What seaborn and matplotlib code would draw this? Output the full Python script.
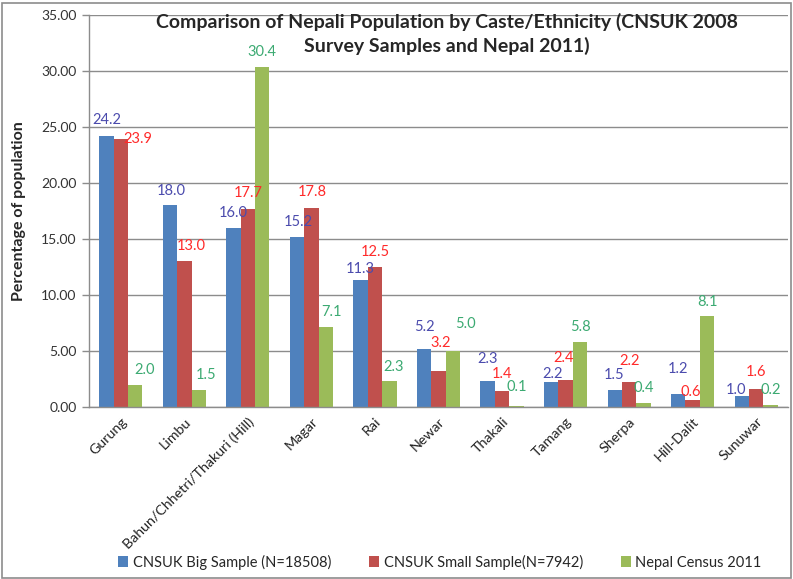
import matplotlib
matplotlib.use("Agg")
import matplotlib.pyplot as plt
import seaborn as sns
import pandas as pd
from matplotlib.patches import Rectangle, Patch

categories = ["Gurung", "Limbu", "Bahun/Chhetri/Thakuri (Hill)", "Magar", "Rai", "Newar",
              "Thakali", "Tamang", "Sherpa", "Hill-Dalit", "Sunuwar"]
series_names = ["CNSUK Big Sample (N=18508)", "CNSUK Small Sample(N=7942)", "Nepal Census 2011"]
big_sample = [24.2, 18.0, 16.0, 15.2, 11.3, 5.2, 2.3, 2.2, 1.5, 1.2, 1.0]
small_sample = [23.9, 13.0, 17.7, 17.8, 12.5, 3.2, 1.4, 2.4, 2.2, 0.6, 1.6]
census_2011 = [2.0, 1.5, 30.4, 7.1, 2.3, 5.0, 0.1, 5.8, 0.4, 8.1, 0.2]
y_ticks = [0, 5, 10, 15, 20, 25, 30, 35]
title_lines = ["Comparison of Nepali Population by Caste/Ethnicity (CNSUK 2008",
               "Survey Samples and Nepal 2011)"]

# styling: data-label nudges in pixels (dx right, dy up from bar top)
label_dx = [[0, 1, 0, 1, 0, 0, 0, 1, -1, 0, -6],
            [17, 7, 0, 1, 0, 2, 0, -2, 0, -2, 0],
            [9, 7, 0, 6, 4, 13, 0, 0, 0, 0, 0]]
label_dy = [[16, 14, 15, 15, 11, 22, 22, 8, 15, 25, 6],
            [0, 15, 16, 16, 15, 28, 17, 22, 21, 8, 17],
            [15, 15, 15, 15, 14, 27, 19, 15, 15, 14, 15]]

bar_colors = ["#4F81BD", "#C0504D", "#9BBB59"]
label_colors = ["#4B4BAD", "#FF2A2A", "#3CAA72"]

rows = []
for name, vals in zip(series_names, [big_sample, small_sample, census_2011]):
    for c, v in zip(categories, vals):
        rows.append({"cat": c, "series": name, "val": v})
df = pd.DataFrame(rows)

sns.set_style("white")
plt.rcParams["font.family"] = ["Lato", "DejaVu Sans"]

fig = plt.figure(figsize=(7.93, 5.79), dpi=100)
ax = fig.add_axes([89/793, 1-407/579, 699/793, 392/579])

sns.barplot(data=df, x="cat", y="val", hue="series", palette=bar_colors,
            width=0.68, saturation=1, ax=ax, legend=False, edgecolor="none")

ax.set_ylim(0, 35)
ax.set_xlim(-0.5, len(categories) - 0.5)
ax.set_yticks(y_ticks)
ax.set_yticklabels([f"{t:.2f}" for t in y_ticks], fontsize=10, color="#333333")
ax.yaxis.grid(True, color="#8C8C8C", linewidth=1)
ax.set_axisbelow(True)
for s in ["top", "right"]:
    ax.spines[s].set_visible(False)
for s in ["left", "bottom"]:
    ax.spines[s].set_color("#8C8C8C")
    ax.spines[s].set_linewidth(1)

ax.set_xticks(range(len(categories)))
ax.set_xticklabels(categories, rotation=45, ha="right", rotation_mode="anchor",
                   fontsize=10.3, color="#222222")
ax.tick_params(axis="x", length=0, pad=6)
ax.set_xticks([i - 0.5 for i in range(len(categories) + 1)], minor=True)
ax.tick_params(axis="x", which="minor", length=5, color="#8C8C8C", width=1)
ax.tick_params(axis="y", length=5, color="#8C8C8C", width=1, left=True, pad=4)
ax.set_xlabel("")
ax.set_ylabel("Percentage of population", fontsize=11.5, fontweight="bold", labelpad=11)

px = 72 / 100.0
for ci, cont in enumerate(ax.containers):
    for j, p in enumerate(cont.patches):
        h = p.get_height()
        ax.annotate(f"{h:.1f}", (p.get_x() + p.get_width() / 2, h),
                    xytext=(label_dx[ci][j] * px, label_dy[ci][j] * px),
                    textcoords="offset points",
                    ha="center", va="center", fontsize=10.5, color=label_colors[ci])

fig.text(447/793, 1 - 13/579, title_lines[0],
         ha="center", va="top", fontsize=14, fontweight="bold")
fig.text(447/793, 1 - 37/579, title_lines[1],
         ha="center", va="top", fontsize=14, fontweight="bold")

handles = [Patch(facecolor=c, edgecolor="none") for c in bar_colors]
fig.legend(handles, series_names, loc="center", bbox_to_anchor=(440/793, 1 - 562/579),
           ncol=3, frameon=False, fontsize=10.5, handlelength=0.7, handleheight=0.7,
           handletextpad=0.3, columnspacing=2.6)

fig.patches.append(Rectangle((0.003, 0.002), 0.994, 0.993, transform=fig.transFigure,
                             fill=False, edgecolor="#8C8C8C", linewidth=1.2))

fig.savefig("out.png", dpi=100)
